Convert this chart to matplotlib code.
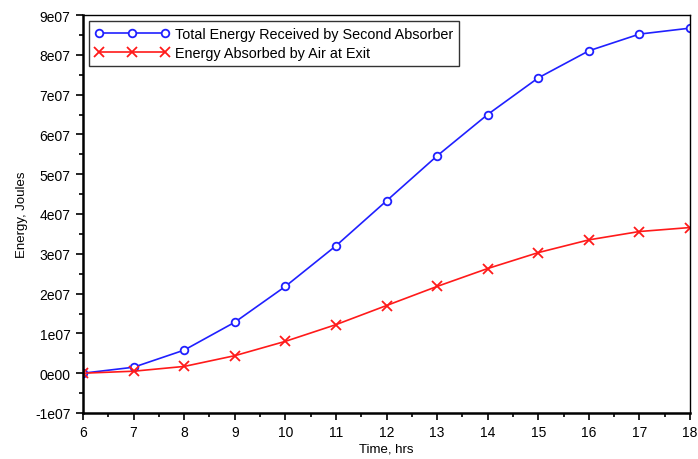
import numpy as np
import matplotlib.pyplot as plt
from matplotlib.ticker import MultipleLocator

# Data
hours = [6, 7, 8, 9, 10, 11, 12, 13, 14, 15, 16, 17, 18]
total_energy = [0.0, 0.15e7, 0.58e7, 1.28e7, 2.18e7, 3.2e7, 4.33e7,
                5.46e7, 6.5e7, 7.42e7, 8.1e7, 8.52e7, 8.67e7]
air_energy = [0.0, 0.05e7, 0.17e7, 0.44e7, 0.8e7, 1.22e7, 1.7e7,
              2.18e7, 2.63e7, 3.03e7, 3.35e7, 3.56e7, 3.66e7]


def main():
    plt.rcParams['font.family'] = ['Liberation Sans', 'DejaVu Sans']
    fig = plt.figure(figsize=(6.98, 4.6), dpi=100)
    ax = fig.add_axes([83 / 698, 46 / 460, 607 / 698, 398 / 460])

    ax.plot(hours, total_energy, '-o', color='#2020ff', lw=1.2, ms=5.5,
            mfc='white', mew=1.3, label='Total Energy Received by Second Absorber')
    ax.plot(hours, air_energy, '-x', color='#ff1a1a', lw=1.2, ms=7,
            mew=1.3, label='Energy Absorbed by Air at Exit')

    ax.set_xlim(6, 18)
    ax.set_ylim(-1e7, 9e7)
    ax.xaxis.set_major_locator(MultipleLocator(1))
    ax.xaxis.set_minor_locator(MultipleLocator(0.5))
    ax.yaxis.set_minor_locator(MultipleLocator(0.5e7))
    yt = np.arange(-1, 10) * 1e7
    ax.set_yticks(yt)
    ax.set_yticklabels(['-1e07', '0e00'] + ['%de07' % i for i in range(1, 10)])

    ax.tick_params(which='major', direction='out', length=5, width=1.2,
                   labelsize=10, pad=4)
    ax.tick_params(which='minor', direction='out', length=3, width=1.2)
    for side in ['left', 'bottom']:
        ax.spines[side].set_linewidth(1.8)
    for side in ['top', 'right']:
        ax.spines[side].set_linewidth(1.0)

    ax.set_xlabel('Time, hrs', fontsize=9.5, labelpad=2)
    ax.set_ylabel('Energy, Joules', fontsize=9.5, labelpad=5)

    leg = ax.legend(loc='upper left', fontsize=10.4, frameon=True, fancybox=False,
                    edgecolor='black', handlelength=5.2, numpoints=3,
                    borderaxespad=0.4, borderpad=0.4, labelspacing=0.4,
                    handletextpad=0.4)
    leg.get_frame().set_linewidth(1.0)

    fig.savefig('out.png', dpi=100)


if __name__ == "__main__":
    main()
